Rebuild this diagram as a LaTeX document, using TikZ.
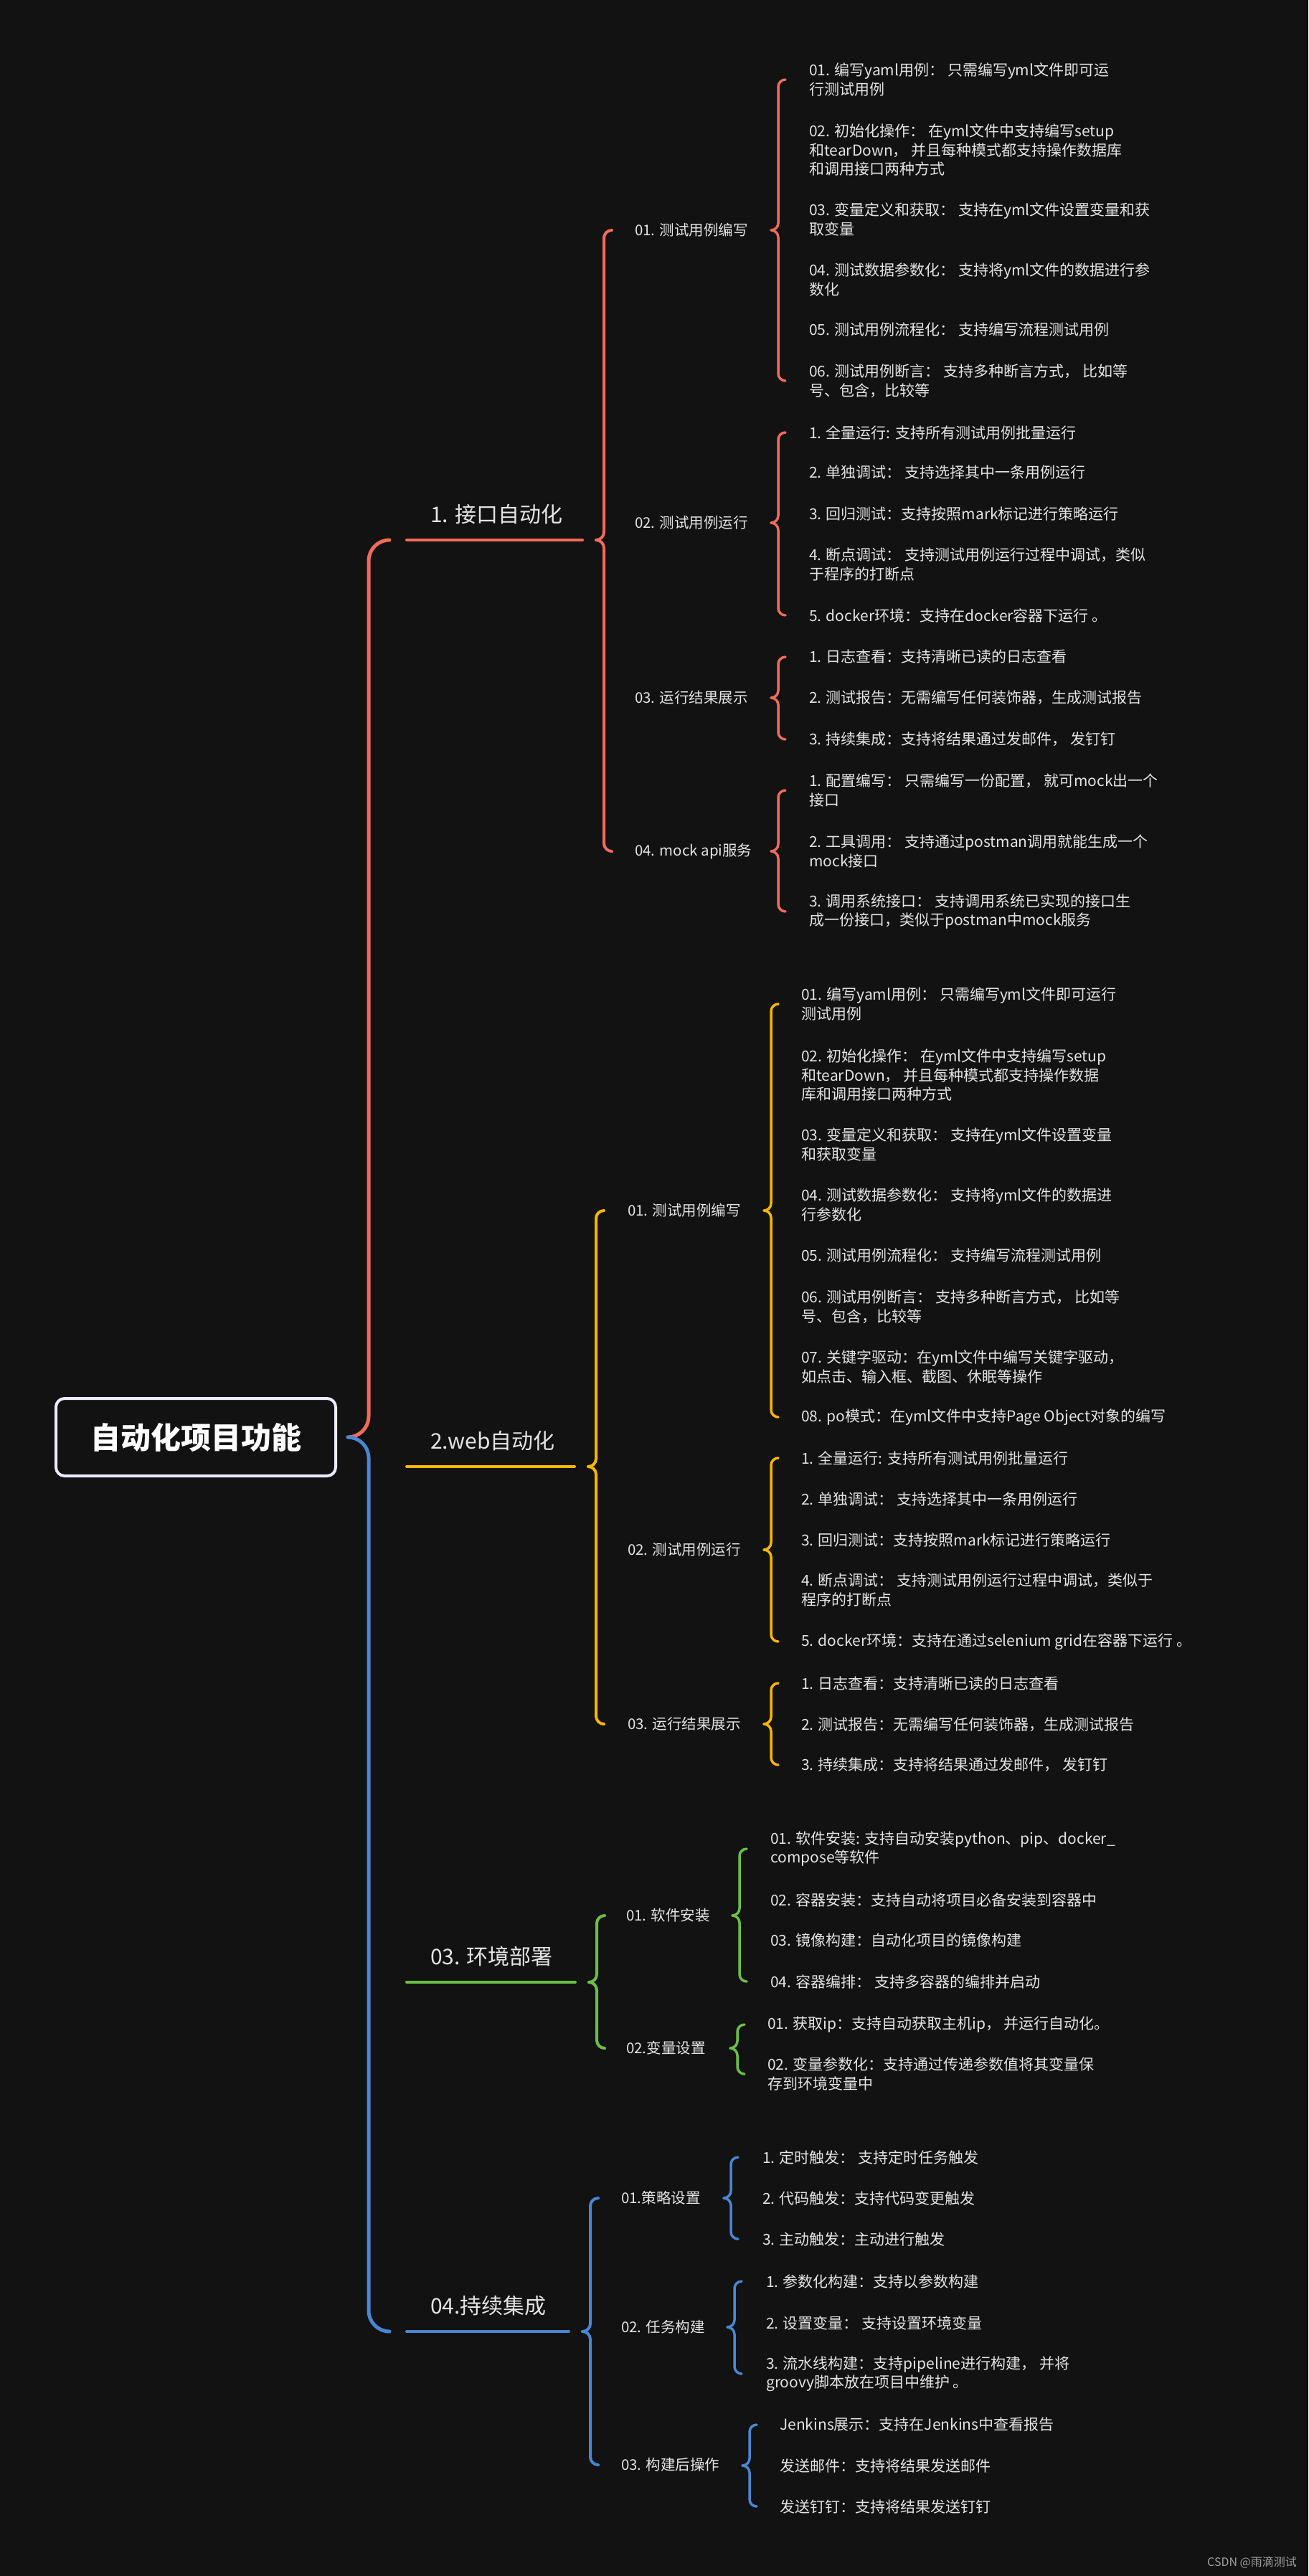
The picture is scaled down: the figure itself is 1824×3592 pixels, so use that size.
\documentclass[tikz,border=0pt]{standalone}
\usepackage{fontspec}
\setmainfont{Noto Sans CJK SC}
\definecolor{bgc}{RGB}{18,18,18}
\definecolor{cred}{RGB}{242,107,90}
\definecolor{cyel}{RGB}{248,181,0}
\definecolor{cgrn}{RGB}{107,191,69}
\definecolor{cblu}{RGB}{74,134,212}
\definecolor{txt}{RGB}{228,228,228}
% half of a curly brace: from the tip to one child
\newcommand{\halfbrace}[4]{%
  \draw[#1, rounded corners=#3] (#2) -| ([xshift=#3]#2 |- #4) -- ([xshift=2*#3]#2 |- #4);}
\begin{document}
\begin{tikzpicture}[x=1pt, y=-1pt, line cap=round, line join=round,
  leaf/.style={anchor=west, inner sep=0pt, align=left, text=txt, font=\fontsize{21}{26.5}\selectfont},
  sub/.style={anchor=west, inner sep=0pt, text=txt, font=\fontsize{20.5}{24}\selectfont},
  main/.style={anchor=west, inner sep=0pt, text=txt, font=\fontsize{30}{36}\selectfont},
  rootbox/.style={draw=white!92!blue, line width=4pt, rounded corners=12pt, minimum width=390pt, minimum height=108pt, text=white, font=\fontsize{42}{50}\selectfont\bfseries}]
\useasboundingbox (0,0) rectangle (1824,3592);
\fill[bgc] (0,0) rectangle (1824,3592);

\node[rootbox] (root) at (273,2004) {自动化项目功能};
\coordinate (rt) at ([xshift=15pt]root.east);

% main branches
\node[main] (b1) at (600,717) {1. 接口自动化};
\node[main] (b2) at (600,2009) {2.web自动化};
\node[main] (b3) at (600,2728) {03. 环境部署};
\node[main] (b4) at (600,3215) {04.持续集成};
\coordinate (b1l) at (567,753);  \coordinate (t1) at (831,753);
\coordinate (b2l) at (567,2045); \coordinate (t2) at (820,2045);
\coordinate (b3l) at (567,2764); \coordinate (t3) at (821,2764);
\coordinate (b4l) at (567,3251); \coordinate (t4) at (812,3251);
\draw[cred, line width=4pt] (b1l) -- ([xshift=-19pt]t1);
\draw[cyel, line width=4pt] (b2l) -- ([xshift=-19pt]t2);
\draw[cgrn, line width=4pt] (b3l) -- ([xshift=-19pt]t3);
\draw[cblu, line width=4pt] (b4l) -- ([xshift=-19pt]t4);
\halfbrace{cred, line width=5pt}{rt}{29pt}{b1l}
\halfbrace{cblu, line width=5pt}{rt}{29pt}{b4l}

% 1. 接口自动化
\node[sub] (s11) at (885,321) {01. 测试用例编写};
\node[sub] (s12) at (885,729) {02. 测试用例运行};
\node[sub] (s13) at (885,973) {03. 运行结果展示};
\node[sub] (s14) at (885,1187) {04. mock api服务};
\halfbrace{cred, line width=4pt}{t1}{11pt}{s11}
\halfbrace{cred, line width=4pt}{t1}{11pt}{s14}
\coordinate (t11) at (1075,321);
\coordinate (t12) at (1075,729);
\coordinate (t13) at (1075,973);
\coordinate (t14) at (1075,1187);
\foreach \y/\t [count=\i] in {
  111/{01. 编写yaml用例： 只需编写yml文件即可运\\行测试用例},
  209/{02. 初始化操作： 在yml文件中支持编写setup\\和tearDown， 并且每种模式都支持操作数据库\\和调用接口两种方式},
  306/{03. 变量定义和获取：  支持在yml文件设置变量和获\\取变量},
  390/{04. 测试数据参数化：  支持将yml文件的数据进行参\\数化},
  460/{05. 测试用例流程化： 支持编写流程测试用例},
  531/{06. 测试用例断言：  支持多种断言方式， 比如等\\号、包含，比较等}}
  \node[leaf] (l11\i) at (1128,\y) {\t};
\foreach \y/\t [count=\i] in {
  603/{1. 全量运行: 支持所有测试用例批量运行},
  659/{2. 单独调试：  支持选择其中一条用例运行},
  717/{3. 回归测试：支持按照mark标记进行策略运行},
  787/{4. 断点调试：  支持测试用例运行过程中调试，类似\\于程序的打断点},
  858/{5. docker环境：支持在docker容器下运行 。}}
  \node[leaf] (l12\i) at (1128,\y) {\t};
\foreach \y/\t [count=\i] in {
  916/{1. 日志查看：支持清晰已读的日志查看},
  973/{2. 测试报告：无需编写任何装饰器，生成测试报告},
  1031/{3. 持续集成：支持将结果通过发邮件， 发钉钉}}
  \node[leaf] (l13\i) at (1128,\y) {\t};
\foreach \y/\t [count=\i] in {
  1102/{1. 配置编写：  只需编写一份配置， 就可mock出一个\\接口},
  1187/{2. 工具调用：  支持通过postman调用就能生成一个\\mock接口},
  1271/{3. 调用系统接口：  支持调用系统已实现的接口生\\成一份接口，类似于postman中mock服务}}
  \node[leaf] (l14\i) at (1128,\y) {\t};
\halfbrace{cred, line width=3.5pt}{t11}{10pt}{l111}
\halfbrace{cred, line width=3.5pt}{t11}{10pt}{l116}
\halfbrace{cred, line width=3.5pt}{t12}{10pt}{l121}
\halfbrace{cred, line width=3.5pt}{t12}{10pt}{l125}
\halfbrace{cred, line width=3.5pt}{t13}{10pt}{l131}
\halfbrace{cred, line width=3.5pt}{t13}{10pt}{l133}
\halfbrace{cred, line width=3.5pt}{t14}{10pt}{l141}
\halfbrace{cred, line width=3.5pt}{t14}{10pt}{l143}

% 2.web自动化
\node[sub] (s21) at (875,1688) {01. 测试用例编写};
\node[sub] (s22) at (875,2161) {02. 测试用例运行};
\node[sub] (s23) at (875,2404) {03. 运行结果展示};
\halfbrace{cyel, line width=4pt}{t2}{11pt}{s21}
\halfbrace{cyel, line width=4pt}{t2}{11pt}{s23}
\coordinate (t21) at (1065,1688);
\coordinate (t22) at (1065,2161);
\coordinate (t23) at (1065,2404);
\foreach \y/\t [count=\i] in {
  1400/{01. 编写yaml用例： 只需编写yml文件即可运行\\测试用例},
  1499/{02. 初始化操作： 在yml文件中支持编写setup\\和tearDown， 并且每种模式都支持操作数据\\库和调用接口两种方式},
  1596/{03. 变量定义和获取：  支持在yml文件设置变量\\和获取变量},
  1680/{04. 测试数据参数化：  支持将yml文件的数据进\\行参数化},
  1750/{05. 测试用例流程化： 支持编写流程测试用例},
  1822/{06. 测试用例断言：  支持多种断言方式， 比如等\\号、包含，比较等},
  1906/{07. 关键字驱动：在yml文件中编写关键字驱动，\\如点击、输入框、截图、休眠等操作},
  1976/{08. po模式：在yml文件中支持Page Object对象的编写}}
  \node[leaf] (l21\i) at (1117,\y) {\t};
\foreach \y/\t [count=\i] in {
  2033/{1. 全量运行: 支持所有测试用例批量运行},
  2091/{2. 单独调试：  支持选择其中一条用例运行},
  2147/{3. 回归测试：支持按照mark标记进行策略运行},
  2217/{4. 断点调试：  支持测试用例运行过程中调试，类似于\\程序的打断点},
  2289/{5. docker环境：支持在通过selenium grid在容器下运行 。}}
  \node[leaf] (l22\i) at (1117,\y) {\t};
\foreach \y/\t [count=\i] in {
  2347/{1. 日志查看：支持清晰已读的日志查看},
  2405/{2. 测试报告：无需编写任何装饰器，生成测试报告},
  2461/{3. 持续集成：支持将结果通过发邮件， 发钉钉}}
  \node[leaf] (l23\i) at (1117,\y) {\t};
\halfbrace{cyel, line width=3.5pt}{t21}{10pt}{l211}
\halfbrace{cyel, line width=3.5pt}{t21}{10pt}{l218}
\halfbrace{cyel, line width=3.5pt}{t22}{10pt}{l221}
\halfbrace{cyel, line width=3.5pt}{t22}{10pt}{l225}
\halfbrace{cyel, line width=3.5pt}{t23}{10pt}{l231}
\halfbrace{cyel, line width=3.5pt}{t23}{10pt}{l233}

% 03. 环境部署
\node[sub] (s31) at (873,2671) {01. 软件安装};
\node[sub] (s32) at (873,2856) {02.变量设置};
\halfbrace{cgrn, line width=4pt}{t3}{11pt}{s31}
\halfbrace{cgrn, line width=4pt}{t3}{11pt}{s32}
\coordinate (t31) at (1021,2671);
\coordinate (t32) at (1018,2856);
\foreach \y/\t [count=\i] in {
  2578/{01. 软件安装: 支持自动安装python、pip、docker\_\\compose等软件},
  2649/{02. 容器安装：支持自动将项目必备安装到容器中},
  2705/{03. 镜像构建：自动化项目的镜像构建},
  2763/{04. 容器编排：  支持多容器的编排并启动}}
  \node[leaf] (l31\i) at (1074,\y) {\t};
\foreach \y/\t [count=\i] in {
  2823/{01. 获取ip：支持自动获取主机ip， 并运行自动化。},
  2892/{02. 变量参数化：支持通过传递参数值将其变量保\\存到环境变量中}}
  \node[leaf] (l32\i) at (1070,\y) {\t};
\halfbrace{cgrn, line width=3.5pt}{t31}{10pt}{l311}
\halfbrace{cgrn, line width=3.5pt}{t31}{10pt}{l314}
\halfbrace{cgrn, line width=3.5pt}{t32}{10pt}{l321}
\halfbrace{cgrn, line width=3.5pt}{t32}{10pt}{l322}

% 04.持续集成
\node[sub] (s41) at (866,3065) {01.策略设置};
\node[sub] (s42) at (866,3245) {02. 任务构建};
\node[sub] (s43) at (866,3437) {03. 构建后操作};
\halfbrace{cblu, line width=4pt}{t4}{11pt}{s41}
\halfbrace{cblu, line width=4pt}{t4}{11pt}{s43}
\coordinate (t41) at (1009,3065);
\coordinate (t42) at (1014,3245);
\coordinate (t43) at (1035,3438);
\foreach \y/\t [count=\i] in {
  3008/{1. 定时触发：  支持定时任务触发},
  3065/{2. 代码触发：支持代码变更触发},
  3122/{3. 主动触发：主动进行触发}}
  \node[leaf] (l41\i) at (1063,\y) {\t};
\foreach \y/\t [count=\i] in {
  3181/{1. 参数化构建：支持以参数构建},
  3239/{2. 设置变量：  支持设置环境变量},
  3310/{3. 流水线构建：支持pipeline进行构建， 并将\\groovy脚本放在项目中维护 。}}
  \node[leaf] (l42\i) at (1068,\y) {\t};
\foreach \y/\t [count=\i] in {
  3381/{Jenkins展示：支持在Jenkins中查看报告},
  3438/{发送邮件：支持将结果发送邮件},
  3495/{发送钉钉：支持将结果发送钉钉}}
  \node[leaf] (l43\i) at (1087,\y) {\t};
\halfbrace{cblu, line width=3.5pt}{t41}{10pt}{l411}
\halfbrace{cblu, line width=3.5pt}{t41}{10pt}{l413}
\halfbrace{cblu, line width=3.5pt}{t42}{10pt}{l421}
\halfbrace{cblu, line width=3.5pt}{t42}{10pt}{l423}
\halfbrace{cblu, line width=3.5pt}{t43}{10pt}{l431}
\halfbrace{cblu, line width=3.5pt}{t43}{10pt}{l433}

\node[anchor=east, inner sep=0pt, text=gray!75, font=\fontsize{16}{18}\selectfont] (wm) at (1808,3573) {CSDN @雨滴测试};
\end{tikzpicture}
\end{document}
